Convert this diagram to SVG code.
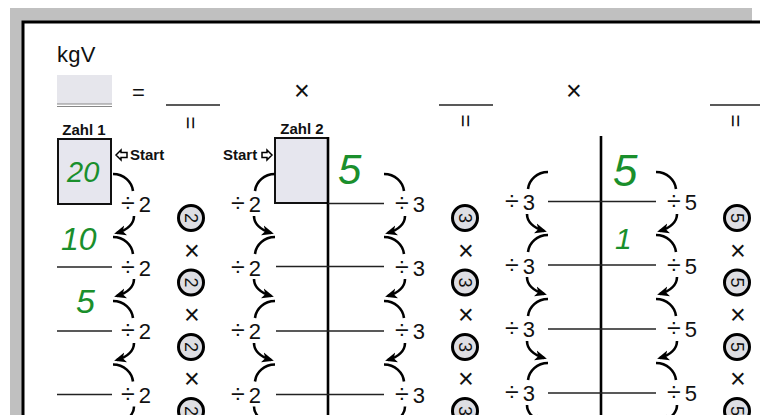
<svg xmlns="http://www.w3.org/2000/svg" xmlns:xlink="http://www.w3.org/1999/xlink" width="760" height="415" viewBox="0 0 760 415">
<style>
text{font-family:"Liberation Sans",Arial,sans-serif;fill:#111}
.op{font-size:22px}
.d{font-size:25px}
.b{font-weight:bold;font-size:15px}
.hw{font-style:italic;fill:#1a8f2c}
.ln{stroke:#222;stroke-width:1.5;fill:none}
.vl{stroke:#000;stroke-width:2.6}
.arc{stroke:#000;stroke-width:2.6;fill:none}
.cir{fill:#dedee3;stroke:#000;stroke-width:3}
.cd{font-size:18px;text-anchor:middle}
.x{font-size:27px;text-anchor:middle}
.eq{font-size:22px;text-anchor:middle}
.box{fill:#e6e6ee;stroke:#111;stroke-width:2}
</style>
<defs>
<marker id="ah" markerUnits="userSpaceOnUse" markerWidth="13" markerHeight="12" refX="9" refY="5" orient="auto" viewBox="0 0 13 10">
<path d="M0,0 L12,5 L0,10 L3,5 z" fill="#000"/>
</marker>
<path id="up" d="M0,-30 C11,-30 19,-22 20,-13"/>
<path id="lo" d="M21,12 C21,20 14,26 4,29" marker-end="url(#ah)"/>
</defs>
<rect x="10" y="8" width="742" height="407" fill="#c0c0c0"/>
<rect x="23" y="22" width="760" height="420" fill="#fff" stroke="#000" stroke-width="3"/>

<g id="header">
<text x="57" y="62" style="font-size:22px;letter-spacing:0.3px">kgV</text>
<rect x="57" y="75" width="55" height="29" fill="#e6e6ec"/>
<line x1="57" y1="104" x2="112" y2="104" stroke="#888" stroke-width="1.2"/>
<line x1="57" y1="106.5" x2="112" y2="106.5" stroke="#888" stroke-width="1.2"/>
<text x="132" y="100" style="font-size:22px">=</text>
<line class="ln" x1="166" y1="105" x2="220" y2="105"/>
<text class="eq" transform="translate(190,123) rotate(90)" y="7">=</text>
<text class="x" x="302" y="100">×</text>
<line class="ln" x1="439" y1="105" x2="493" y2="105"/>
<text class="eq" transform="translate(465,121) rotate(90)" y="7">=</text>
<text class="x" x="574" y="100">×</text>
<line class="ln" x1="710" y1="105" x2="760" y2="105"/>
<text class="eq" transform="translate(735,121) rotate(90)" y="7">=</text>
</g>

<g id="zahl1">
<text class="b" x="84" y="135" text-anchor="middle">Zahl 1</text>
<rect class="box" x="58" y="139" width="53" height="65"/>
<text class="hw" x="67" y="182" style="font-size:29px">20</text>
<polygon points="116,155 121,150 121,152.5 127,152.5 127,157.5 121,157.5 121,160" fill="#fff" stroke="#000" stroke-width="1.5"/>
<text class="b" x="130" y="160">Start</text>
<line class="ln" x1="57" y1="267" x2="112" y2="267"/>
<line class="ln" x1="57" y1="331" x2="112" y2="331"/>
<line class="ln" x1="57" y1="394.5" x2="112" y2="394.5"/>
<text class="hw" x="61" y="250" style="font-size:32px">10</text>
<text class="hw" x="76" y="313" style="font-size:34px">5</text>
<text class="op" x="121" y="212"><tspan class="d">÷</tspan><tspan dx="4">2</tspan></text>
<text class="op" x="121" y="275.5"><tspan class="d">÷</tspan><tspan dx="4">2</tspan></text>
<text class="op" x="121" y="339"><tspan class="d">÷</tspan><tspan dx="4">2</tspan></text>
<text class="op" x="121" y="402.5"><tspan class="d">÷</tspan><tspan dx="4">2</tspan></text>
</g>

<g id="zahl2">
<text class="b" x="302" y="134" text-anchor="middle">Zahl 2</text>
<rect class="box" x="275" y="138" width="53" height="65"/>
<text class="b" x="223" y="160">Start</text>
<polygon points="272,155 267,150 267,152.5 262,152.5 262,157.5 267,157.5 267,160" fill="#fff" stroke="#000" stroke-width="1.5"/>
<line class="vl" x1="328" y1="137" x2="328" y2="415"/>
<line class="ln" x1="328" y1="203.5" x2="384" y2="203.5"/>
<line class="ln" x1="276" y1="266.5" x2="384" y2="266.5"/>
<line class="ln" x1="276" y1="331" x2="384" y2="331"/>
<line class="ln" x1="276" y1="394.5" x2="384" y2="394.5"/>
<text class="hw" x="338" y="184" style="font-size:42px">5</text>
<text class="op" x="231" y="212"><tspan class="d">÷</tspan><tspan dx="4">2</tspan></text>
<text class="op" x="231" y="275.5"><tspan class="d">÷</tspan><tspan dx="4">2</tspan></text>
<text class="op" x="231" y="339"><tspan class="d">÷</tspan><tspan dx="4">2</tspan></text>
<text class="op" x="231" y="402.5"><tspan class="d">÷</tspan><tspan dx="4">2</tspan></text>
<text class="op" x="395" y="212"><tspan class="d">÷</tspan><tspan dx="4">3</tspan></text>
<text class="op" x="395" y="275.5"><tspan class="d">÷</tspan><tspan dx="4">3</tspan></text>
<text class="op" x="395" y="339"><tspan class="d">÷</tspan><tspan dx="4">3</tspan></text>
<text class="op" x="395" y="402.5"><tspan class="d">÷</tspan><tspan dx="4">3</tspan></text>
</g>

<g id="zahl3">
<line class="vl" x1="601" y1="136" x2="601" y2="415"/>
<line class="ln" x1="548" y1="201.5" x2="656" y2="201.5"/>
<line class="ln" x1="548" y1="265" x2="656" y2="265"/>
<line class="ln" x1="548" y1="329" x2="656" y2="329"/>
<line class="ln" x1="548" y1="393" x2="656" y2="393"/>
<text class="hw" x="613" y="186" style="font-size:44px">5</text>
<text class="hw" x="615" y="249" style="font-size:30px">1</text>
<text class="op" x="505" y="210"><tspan class="d">÷</tspan><tspan dx="4">3</tspan></text>
<text class="op" x="505" y="273.5"><tspan class="d">÷</tspan><tspan dx="4">3</tspan></text>
<text class="op" x="505" y="337"><tspan class="d">÷</tspan><tspan dx="4">3</tspan></text>
<text class="op" x="505" y="400.5"><tspan class="d">÷</tspan><tspan dx="4">3</tspan></text>
<text class="op" x="667" y="210"><tspan class="d">÷</tspan><tspan dx="4">5</tspan></text>
<text class="op" x="667" y="273.5"><tspan class="d">÷</tspan><tspan dx="4">5</tspan></text>
<text class="op" x="667" y="337"><tspan class="d">÷</tspan><tspan dx="4">5</tspan></text>
<text class="op" x="667" y="400.5"><tspan class="d">÷</tspan><tspan dx="4">5</tspan></text>
</g>

<g id="factors">
<g transform="translate(191,218) rotate(90)"><circle class="cir" r="12.5"/><text class="cd" y="6.4">2</text></g>
<g transform="translate(191,282.5) rotate(90)"><circle class="cir" r="12.5"/><text class="cd" y="6.4">2</text></g>
<g transform="translate(191,347) rotate(90)"><circle class="cir" r="12.5"/><text class="cd" y="6.4">2</text></g>
<g transform="translate(191,411) rotate(90)"><circle class="cir" r="12.5"/><text class="cd" y="6.4">2</text></g>
<text class="x" x="192" y="260">×</text>
<text class="x" x="192" y="324">×</text>
<text class="x" x="192" y="388">×</text>
<g transform="translate(465,218) rotate(90)"><circle class="cir" r="12.5"/><text class="cd" y="6.4">3</text></g>
<g transform="translate(465,282.5) rotate(90)"><circle class="cir" r="12.5"/><text class="cd" y="6.4">3</text></g>
<g transform="translate(465,347) rotate(90)"><circle class="cir" r="12.5"/><text class="cd" y="6.4">3</text></g>
<g transform="translate(465,411) rotate(90)"><circle class="cir" r="12.5"/><text class="cd" y="6.4">3</text></g>
<text class="x" x="466" y="260">×</text>
<text class="x" x="466" y="324">×</text>
<text class="x" x="466" y="388">×</text>
<g transform="translate(737,218) rotate(90)"><circle class="cir" r="12.5"/><text class="cd" y="6.4">5</text></g>
<g transform="translate(737,282.5) rotate(90)"><circle class="cir" r="12.5"/><text class="cd" y="6.4">5</text></g>
<g transform="translate(737,347) rotate(90)"><circle class="cir" r="12.5"/><text class="cd" y="6.4">5</text></g>
<g transform="translate(737,411) rotate(90)"><circle class="cir" r="12.5"/><text class="cd" y="6.4">5</text></g>
<text class="x" x="738" y="260">×</text>
<text class="x" x="738" y="324">×</text>
<text class="x" x="738" y="388">×</text>
</g>

<g id="connectors" class="arc">
<use xlink:href="#up" transform="translate(113,204)"/><use xlink:href="#lo" transform="translate(113,204)"/>
<use xlink:href="#up" transform="translate(113,267)"/><use xlink:href="#lo" transform="translate(113,267)"/>
<use xlink:href="#up" transform="translate(113,331)"/><use xlink:href="#lo" transform="translate(113,331)"/>
<use xlink:href="#up" transform="translate(113,394.5)"/><use xlink:href="#lo" transform="translate(113,394.5)"/>
<use xlink:href="#up" transform="translate(275,204) scale(-1,1)"/><use xlink:href="#lo" transform="translate(275,204) scale(-1,1)"/>
<use xlink:href="#up" transform="translate(275,267) scale(-1,1)"/><use xlink:href="#lo" transform="translate(275,267) scale(-1,1)"/>
<use xlink:href="#up" transform="translate(275,331) scale(-1,1)"/><use xlink:href="#lo" transform="translate(275,331) scale(-1,1)"/>
<use xlink:href="#up" transform="translate(275,394.5) scale(-1,1)"/><use xlink:href="#lo" transform="translate(275,394.5) scale(-1,1)"/>
<use xlink:href="#up" transform="translate(384,204)"/><use xlink:href="#lo" transform="translate(384,204)"/>
<use xlink:href="#up" transform="translate(384,267)"/><use xlink:href="#lo" transform="translate(384,267)"/>
<use xlink:href="#up" transform="translate(384,331)"/><use xlink:href="#lo" transform="translate(384,331)"/>
<use xlink:href="#up" transform="translate(384,394.5)"/><use xlink:href="#lo" transform="translate(384,394.5)"/>
<use xlink:href="#up" transform="translate(548,202) scale(-1,1)"/><use xlink:href="#lo" transform="translate(548,202) scale(-1,1)"/>
<use xlink:href="#up" transform="translate(548,265) scale(-1,1)"/><use xlink:href="#lo" transform="translate(548,265) scale(-1,1)"/>
<use xlink:href="#up" transform="translate(548,329) scale(-1,1)"/><use xlink:href="#lo" transform="translate(548,329) scale(-1,1)"/>
<use xlink:href="#up" transform="translate(548,393) scale(-1,1)"/><use xlink:href="#lo" transform="translate(548,393) scale(-1,1)"/>
<use xlink:href="#up" transform="translate(656,202)"/><use xlink:href="#lo" transform="translate(656,202)"/>
<use xlink:href="#up" transform="translate(656,265)"/><use xlink:href="#lo" transform="translate(656,265)"/>
<use xlink:href="#up" transform="translate(656,329)"/><use xlink:href="#lo" transform="translate(656,329)"/>
<use xlink:href="#up" transform="translate(656,393)"/><use xlink:href="#lo" transform="translate(656,393)"/>
</g>
</svg>
